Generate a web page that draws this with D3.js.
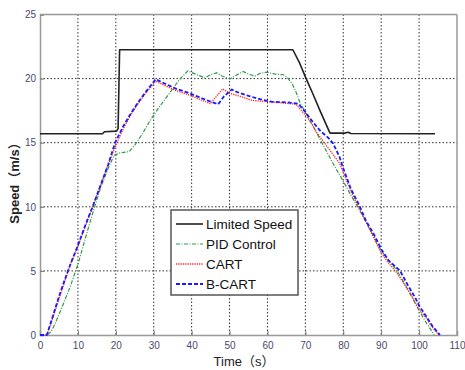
<!DOCTYPE html>
<html>
<head>
<meta charset="utf-8">
<script src="https://cdn.jsdelivr.net/npm/d3@7"></script>
<style>
body { margin: 0; background: #fff; }
svg { display: block; }
</style>
</head>
<body>
<div id="chart"></div>
<script>
// values: [time, speed]
var limitedSpeed = [[0,15.7],[16.5,15.7],[17,15.85],[20.2,15.9],[20.6,16.1],[21,22.25],[40,22.25],[66.7,22.25],[68.5,21.2],[70.2,20.0],[72,18.8],[74,17.4],[76.5,15.75],[80.5,15.75],[81.3,15.82],[82,15.72],[104.2,15.7]];
var pidControl = [[0,0],[2,0],[3,0.3],[4,0.9],[6,2.3],[8,3.8],[10,5.5],[12,7.6],[14,9.6],[16,11.5],[18,13.0],[19.5,14.0],[21,14.2],[23.5,14.3],[25,14.8],[27,15.7],[29,16.7],[31,17.6],[33,18.4],[35,19.2],[37,20.0],[39,20.6],[41,20.35],[43.5,20.05],[45,20.3],[46.6,20.45],[48,20.2],[50.1,19.97],[52,20.3],[53.6,20.55],[55,20.35],[56.7,20.2],[58,20.4],[59.8,20.5],[62,20.35],[64.2,20.3],[65.2,20.1],[66.5,19.6],[67.6,18.9],[68.6,18.1],[70,17.4],[72,16.3],[74,15.2],[76,14.1],[78,13.0],[80,12.0],[82,10.9],[84,9.9],[86,8.8],[88,7.7],[90,6.6],[92,5.8],[94,5.1],[96,4.1],[98,3.0],[100,1.9],[102,0.9],[104,0]];
var cart = [[0,0],[1.8,0],[3,1.0],[5,2.8],[7,4.6],[8,5.5],[10,6.9],[12,8.5],[14,10.1],[16,11.7],[18,13.3],[20,14.8],[22,16.1],[24,17.2],[26,18.1],[28,18.9],[30.5,19.8],[33,19.45],[36,19.05],[39,18.75],[42,18.4],[44.9,18.05],[48.2,19.2],[50,18.85],[53,18.6],[56,18.3],[60,18.2],[64,18.1],[67.5,18.0],[69,17.5],[71,16.8],[73,15.8],[75,15.0],[77,14.2],[79,13.4],[80,12.7],[82,11.2],[84,10.0],[86,8.8],[88,7.6],[90,6.4],[92,5.6],[94,4.9],[96,4.0],[98,3.1],[100,2.0],[102,1.3],[103,0.8],[105.2,0]];
var bCart = [[0,0],[1.8,0],[3,1.1],[5,3.0],[7,4.7],[8,5.5],[10,7.0],[12,8.6],[14,10.1],[16,11.7],[18,13.3],[19.8,15.0],[22,16.3],[24,17.3],[26,18.2],[28,19.0],[30.5,19.95],[33,19.6],[36,19.2],[39,18.9],[42,18.55],[45,18.2],[47,18.0],[48.5,18.6],[50.6,19.15],[52,18.95],[55,18.65],[58,18.4],[61,18.2],[65,18.15],[68.1,18.05],[70,17.4],[72,16.6],[74,15.9],[76,15.4],[77.3,14.95],[79,13.9],[80,13.0],[82,11.4],[84.4,10.0],[86,8.9],[88,7.9],[90,6.7],[92,5.8],[95,5.0],[97,3.9],[99,2.9],[100,2.3],[102,1.4],[103.5,0.7],[105.5,0]];

var xTicks = [0,10,20,30,40,50,60,70,80,90,100,110];
var yTicks = [0,5,10,15,20,25];

var series = [
  { name: "Limited Speed", values: limitedSpeed, color: "#222222", width: 1.6, dash: null },
  { name: "PID Control", values: pidControl, color: "#2e9a48", width: 1.2, dash: "4,1.5,1,1.5" },
  { name: "CART", values: cart, color: "#ff2a2a", width: 1.3, dash: "1.3,1" },
  { name: "B-CART", values: bCart, color: "#1a1aff", width: 1.8, dash: "4,2" }
];

var margin = { top: 14.5, right: 8, bottom: 35, left: 40 },
    width = 465 - margin.left - margin.right,
    height = 370 - margin.top - margin.bottom;

var svg = d3.select("#chart").append("svg")
    .attr("width", 465)
    .attr("height", 370);

var chart = svg.append("g")
    .attr("transform", "translate(" + margin.left + "," + margin.top + ")");

var x = d3.scaleLinear().domain([0, 110]).range([0, width]);
var y = d3.scaleLinear().domain([0, 25]).range([height, 0]);

// grid
chart.append("g")
    .selectAll("line.vg")
    .data(xTicks.slice(1, -1))
    .enter().append("line")
    .attr("x1", function(d){ return x(d); })
    .attr("x2", function(d){ return x(d); })
    .attr("y1", 0).attr("y2", height)
    .attr("stroke", "#333").attr("stroke-width", 1)
    .attr("stroke-dasharray", "1.5,2");

chart.append("g")
    .selectAll("line.hg")
    .data(yTicks.slice(1, -1))
    .enter().append("line")
    .attr("y1", function(d){ return y(d); })
    .attr("y2", function(d){ return y(d); })
    .attr("x1", 0).attr("x2", width)
    .attr("stroke", "#333").attr("stroke-width", 1)
    .attr("stroke-dasharray", "1.5,2");

// axes
var xAxis = chart.append("g")
    .attr("transform", "translate(0," + height + ")")
    .call(d3.axisBottom(x).tickValues(xTicks).tickSize(-4).tickPadding(7));
var yAxis = chart.append("g")
    .call(d3.axisLeft(y).tickValues(yTicks).tickSize(-4).tickPadding(4));

[xAxis, yAxis].forEach(function(a){
    a.selectAll("path").attr("stroke", "#999").attr("stroke-width", 1.5);
    a.selectAll(".tick line").attr("stroke", "#777");
    a.selectAll("text")
        .attr("fill", "#4a4a6a")
        .style("font-family", "'Liberation Sans Narrow', 'Liberation Sans', sans-serif")
        .style("font-size", "10px");
});

// box top and right
chart.append("line").attr("x1", 0).attr("x2", width).attr("y1", 0).attr("y2", 0)
    .attr("stroke", "#999").attr("stroke-width", 1.5);
chart.append("line").attr("x1", width).attr("x2", width).attr("y1", 0).attr("y2", height)
    .attr("stroke", "#999").attr("stroke-width", 1.5);

// lines
var line = d3.line()
    .x(function(d){ return x(d[0]); })
    .y(function(d){ return y(d[1]); });

series.forEach(function(s){
    chart.append("path")
        .datum(s.values)
        .attr("fill", "none")
        .attr("stroke", s.color)
        .attr("stroke-width", s.width)
        .attr("stroke-dasharray", s.dash)
        .attr("stroke-linejoin", "round")
        .attr("d", line);
});

// legend
var legend = svg.append("g").attr("transform", "translate(171,210)");
legend.append("rect")
    .attr("width", 127).attr("height", 85)
    .attr("fill", "#fff")
    .attr("stroke", "#555").attr("stroke-width", 1.5);

series.forEach(function(s, i){
    var gy = 14 + i * 20;
    legend.append("line")
        .attr("x1", 5).attr("x2", 32)
        .attr("y1", gy).attr("y2", gy)
        .attr("stroke", s.color)
        .attr("stroke-width", s.width)
        .attr("stroke-dasharray", s.dash);
    legend.append("text")
        .attr("x", 35).attr("y", gy + 5)
        .text(s.name)
        .attr("fill", "#111")
        .style("font-family", "'Liberation Sans', Arial, sans-serif")
        .style("font-size", "13.5px");
});

// axis labels
svg.append("text")
    .attr("transform", "translate(19,180) rotate(-90)")
    .attr("text-anchor", "middle")
    .text("Speed（m/s）")
    .attr("fill", "#222")
    .style("font-family", "'Liberation Sans', 'Noto Sans CJK SC', sans-serif")
    .style("font-size", "13px")
    .style("font-weight", "bold");

svg.append("text")
    .attr("x", 244).attr("y", 366)
    .attr("text-anchor", "middle")
    .text("Time（s）")
    .attr("fill", "#222")
    .style("font-family", "'Liberation Sans', 'Noto Sans CJK SC', sans-serif")
    .style("font-size", "13px");
</script>
</body>
</html>
